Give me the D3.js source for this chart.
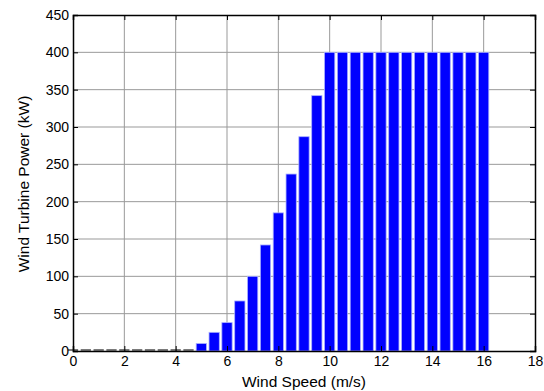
<!DOCTYPE html>
<html><head><meta charset="utf-8">
<script src="https://cdn.jsdelivr.net/npm/d3@7"></script>
<style>body{margin:0;background:#fff}svg{display:block}text{font-family:Arial,"Liberation Sans",sans-serif}</style>
</head><body>
<svg id="c" width="544" height="391"></svg>
<script>
const speeds = [0,0.5,1,1.5,2,2.5,3,3.5,4,4.5,5,5.5,6,6.5,7,7.5,8,8.5,9,9.5,10,10.5,11,11.5,12,12.5,13,13.5,14,14.5,15,15.5,16];
const power  = [0,0,0,0,0,0,0,0,0,0,10,25,38,67,100,142,185,237,287,342,400,400,400,400,400,400,400,400,400,400,400,400,400];
const xTicks = [0,2,4,6,8,10,12,14,16,18];
const yTicks = [0,50,100,150,200,250,300,350,400,450];

const svg = d3.select("#c");
const L=73,R=535,T=15,B=351;
const x = d3.scaleLinear().domain([0,18]).range([L,R]);
const y = d3.scaleLinear().domain([0,450]).range([B,T]);

// grid
svg.append("g").selectAll("line").data(xTicks.slice(1,-1)).join("line")
  .attr("x1",d=>x(d)).attr("x2",d=>x(d)).attr("y1",T).attr("y2",B)
  .attr("stroke","#999").attr("stroke-width",1);
svg.append("g").selectAll("line").data(yTicks.slice(1,-1)).join("line")
  .attr("y1",d=>y(d)).attr("y2",d=>y(d)).attr("x1",L).attr("x2",R)
  .attr("stroke","#999").attr("stroke-width",1);

// bars
const bw = (x(0.5)-x(0))*0.8;
const data = speeds.map((s,i)=>({s,p:power[i]}));
svg.append("g").selectAll("rect").data(data.filter(d=>d.p>0)).join("rect")
  .attr("x",d=>x(d.s)-bw/2).attr("width",bw)
  .attr("y",d=>y(d.p)).attr("height",d=>y(0)-y(d.p))
  .attr("fill","#0000ff").attr("stroke","#aab0ff").attr("stroke-width",0.8);
svg.append("g").selectAll("line").data(data.filter(d=>d.p===0)).join("line")
  .attr("x1",d=>x(d.s)-bw/2).attr("x2",d=>x(d.s)+bw/2)
  .attr("y1",y(0)-1).attr("y2",y(0)-1)
  .attr("stroke","#222").attr("stroke-width",1.2);

// axes
const ax = svg.append("g").attr("transform",`translate(0,${B})`)
  .call(d3.axisBottom(x).tickValues(xTicks).tickSize(-5).tickPadding(5));
const ay = svg.append("g").attr("transform",`translate(${L},0)`)
  .call(d3.axisLeft(y).tickValues(yTicks).tickSize(-5).tickPadding(4));
const axT = svg.append("g").attr("transform",`translate(0,${T})`)
  .call(d3.axisTop(x).tickValues(xTicks).tickSize(-5).tickFormat(""));
const ayR = svg.append("g").attr("transform",`translate(${R},0)`)
  .call(d3.axisRight(y).tickValues(yTicks).tickSize(-5).tickFormat(""));
[ax,ay,axT,ayR].forEach(g=>{
  g.select(".domain").attr("stroke","#000").attr("stroke-width",1.5);
  g.selectAll(".tick line").attr("stroke","#000");
  g.selectAll(".tick text").attr("font-size",14).attr("fill","#000")
   .style("font-family","Arial,'Liberation Sans',sans-serif");
});

svg.append("text").attr("x",304).attr("y",387).attr("text-anchor","middle")
  .attr("font-size",15.5).text("Wind Speed (m/s)");
svg.append("text").attr("transform",`translate(29,184) rotate(-90)`)
  .attr("text-anchor","middle").attr("font-size",15.5).text("Wind Turbine Power (kW)");
</script>
</body></html>
